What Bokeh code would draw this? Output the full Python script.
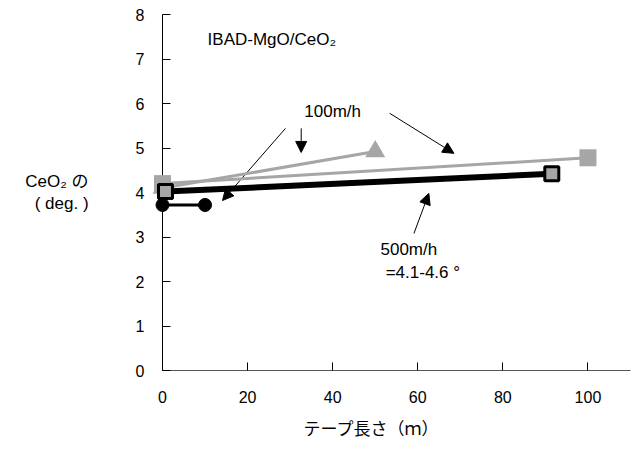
from bokeh.plotting import figure
from bokeh.models import Range1d, FixedTicker, Label, Arrow, NormalHead, Title
from bokeh.embed import file_html
from bokeh.resources import INLINE

# ---- data ----
tri_x = [0, 50]
tri_y = [4.1, 4.92]
sq_x = [0, 100]
sq_y = [4.2, 4.78]
blk_x = [0.7, 91.5]
blk_y = [4.02, 4.42]
circ_x = [0, 10]
circ_y = [3.72, 3.72]

x_ticks = [0, 20, 40, 60, 80, 100]
y_ticks = [0, 1, 2, 3, 4, 5, 6, 7, 8]

# arrows (x_start, y_start, x_end, y_end) in data units
arrows = [
    (28.9, 5.44, 14.1, 3.82),
    (32.6, 5.44, 32.6, 4.90),
    (53.4, 5.78, 68.5, 4.88),
    (59.1, 3.08, 62.6, 3.98),
]

FONT = "Liberation Sans, Arial, Noto Sans CJK JP, sans-serif"
GRAY = "#a6a6a6"

p = figure(width=638, height=451, output_backend="svg", toolbar_location=None,
           x_range=Range1d(0, 110), y_range=Range1d(0, 8),
           min_border_left=162, min_border_right=8, min_border_top=14, min_border_bottom=81)
p.outline_line_color = None
p.grid.visible = False
p.background_fill_color = "white"
p.border_fill_color = "white"

for ax in (p.xaxis[0], p.yaxis[0]):
    ax.major_tick_in = 8
    ax.major_tick_out = 0
    ax.minor_tick_in = 0
    ax.minor_tick_out = 0
    ax.axis_line_color = "black"
    ax.major_tick_line_color = "black"
    ax.major_label_text_font = FONT
    ax.major_label_text_font_size = "16px"
    ax.major_label_text_color = "black"
p.xaxis.ticker = FixedTicker(ticks=x_ticks)
p.yaxis.ticker = FixedTicker(ticks=y_ticks)
p.xaxis.major_label_standoff = 20
p.yaxis.major_label_standoff = 18
p.xaxis.axis_line_color = "#555555"

# y axis label: horizontal, two lines
p.yaxis.axis_label = "CeO₂ の\n( deg. )"
p.yaxis.axis_label_orientation = "horizontal"
p.yaxis.axis_label_text_font = FONT
p.yaxis.axis_label_text_font_size = "17px"
p.yaxis.axis_label_text_font_style = "normal"
p.yaxis.axis_label_text_color = "black"
p.yaxis.axis_label_standoff = 44

# x axis label as a bottom title placed to match the reference
p.add_layout(Title(text="テープ長さ（ｍ）", align="left", offset=141, text_font=FONT,
                   text_font_size="17px", text_font_style="normal", text_color="black",
                   standoff=25), "below")

# series (overlay level so markers on axes are not clipped)
p.line(tri_x, tri_y, line_color=GRAY, line_width=3, level="overlay")
p.scatter(tri_x, tri_y, marker="triangle", size=20, fill_color=GRAY, line_color=None, level="overlay")
p.line(sq_x, sq_y, line_color=GRAY, line_width=3, level="overlay")
p.scatter(sq_x, sq_y, marker="square", size=17, fill_color=GRAY, line_color=None, level="overlay")
p.line(blk_x, blk_y, line_color="black", line_width=6, level="overlay")
p.scatter(blk_x, blk_y, marker="square", size=14, fill_color=GRAY, line_color="black",
          line_width=3, level="overlay")
p.line(circ_x, circ_y, line_color="black", line_width=3, level="overlay")
p.scatter(circ_x, circ_y, marker="circle", size=13, fill_color="black", line_color="black", level="overlay")

for xs, ys, xe, ye in arrows:
    p.add_layout(Arrow(x_start=xs, y_start=ys, x_end=xe, y_end=ye, line_color="black", line_width=1,
                       end=NormalHead(size=11, fill_color="black", line_color="black")))

def lab(x, y, t, align="center"):
    p.add_layout(Label(x=x, y=y, text=t, text_font=FONT, text_font_size="17px", text_color="black",
                       text_align=align, text_baseline="middle"))

lab(10.6, 7.43, "IBAD-MgO/CeO₂", "left")
lab(40.0, 5.82, "100m/h")
lab(57.9, 2.72, "500m/h")
lab(61.2, 2.20, "=4.1-4.6 °")

open("out.html", "w").write(file_html(p, INLINE))
